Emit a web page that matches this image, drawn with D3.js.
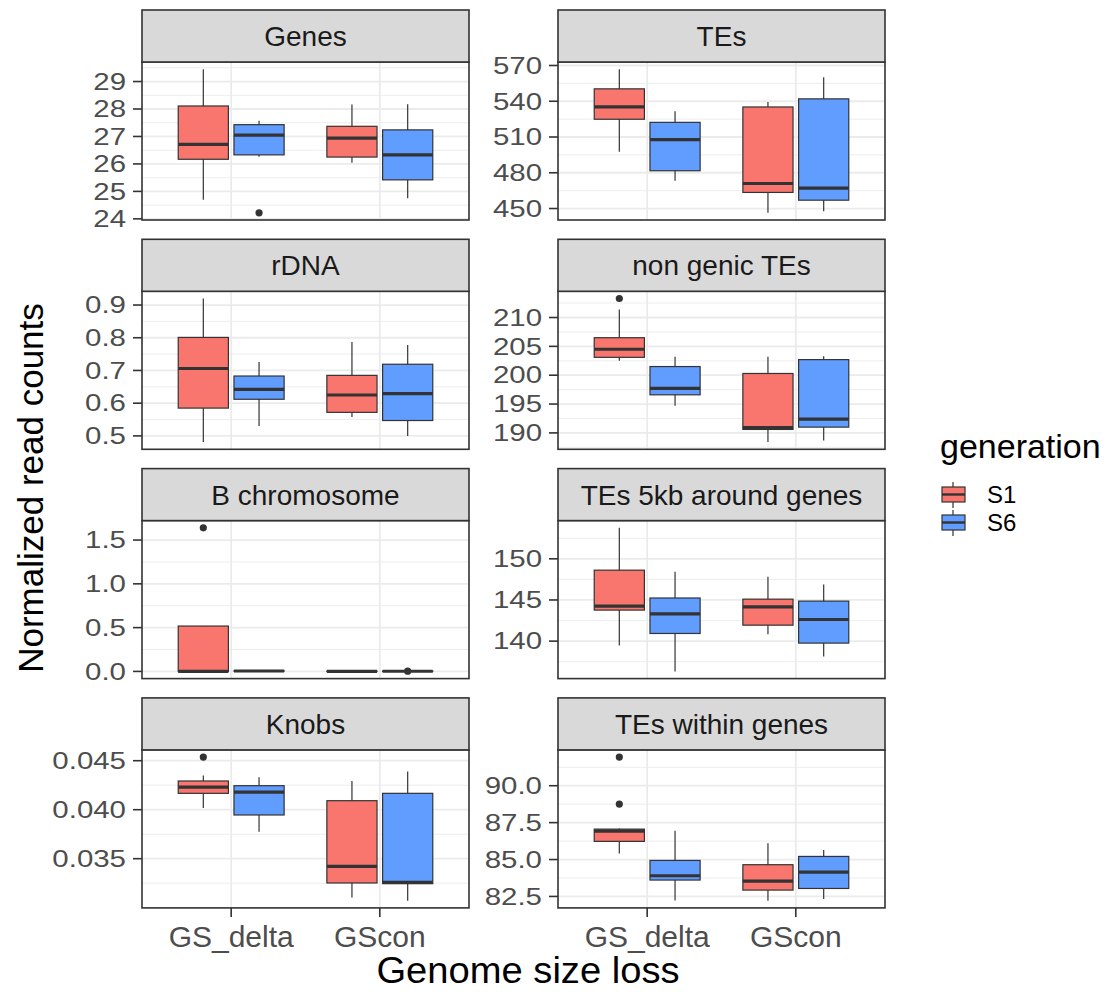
<!DOCTYPE html>
<html>
<head>
<meta charset="utf-8"/>
<script src="https://d3js.org/d3.v7.min.js"></script>
<style>
  body { margin: 0; background: #fff; }
  text { font-family: "Liberation Sans", Arial, Helvetica, sans-serif; }
</style>
</head>
<body>
<script>
// facets, left to right then top to bottom
var facets = ["Genes", "TEs", "rDNA", "non genic TEs", "B chromosome",
              "TEs 5kb around genes", "Knobs", "TEs within genes"];
var groups = ["GS_delta", "GScon"];
var generations = ["S1", "S6"];
var genColors = ["#F8766D", "#619CFF"];

// boxes: [low whisker, q1, median, q3, high whisker]
// order: GS_delta S1, GS_delta S6, GScon S1, GScon S6
var genesBox = [[24.70, 26.17, 26.71, 28.11, 29.45], [26.26, 26.33, 27.05, 27.43, 27.57],
                [26.04, 26.25, 26.94, 27.37, 28.16], [24.75, 25.42, 26.33, 27.24, 28.17]];
var tesBox = [[497.7, 524.9, 535.2, 550.4, 566.9], [473.3, 481.7, 507.8, 522.3, 531.6],
              [446.4, 463.5, 471.0, 535.2, 539.4], [447.8, 457.0, 467.1, 542.0, 560.2]];
var rdnaBox = [[0.481, 0.585, 0.706, 0.801, 0.920], [0.530, 0.612, 0.642, 0.683, 0.726],
               [0.558, 0.572, 0.625, 0.685, 0.787], [0.500, 0.547, 0.629, 0.719, 0.778]];
var nonGenicBox = [[202.5, 203.1, 204.5, 206.5, 211.4], [194.7, 196.6, 197.7, 201.5, 203.2],
                   [188.4, 190.6, 190.9, 200.3, 203.2], [188.7, 191.0, 192.4, 202.7, 203.3]];
var bchromBox = [[0, 0, 0, 0.518, 0.518], [0.003, 0.004, 0.005, 0.006, 0.007],
                 [0, 0, 0.001, 0.002, 0.003], [0, 0.001, 0.002, 0.003, 0.004]];
var te5kbBox = [[139.47, 143.77, 144.25, 148.62, 153.77], [136.32, 140.93, 143.32, 145.24, 148.42],
                [140.85, 141.94, 144.17, 145.10, 147.81], [138.14, 139.76, 142.63, 144.86, 146.88]];
var knobsBox = [[0.04017, 0.04167, 0.04231, 0.04293, 0.04350], [0.03776, 0.03946, 0.04180, 0.04245, 0.04330],
                [0.03105, 0.03252, 0.03422, 0.04092, 0.04293], [0.03071, 0.03245, 0.03259, 0.04167, 0.04391]];
var teWithinBox = [[85.41, 86.23, 86.93, 87.06, 87.10], [82.23, 83.61, 83.90, 84.94, 86.95],
                   [82.21, 82.93, 83.54, 84.65, 86.11], [82.32, 83.04, 84.15, 85.21, 85.64]];

// outliers: [box index, value]
var genesOut = [[1, 24.22]];
var tesOut = [];
var rdnaOut = [];
var nonGenicOut = [[0, 213.3]];
var bchromOut = [[0, 1.64], [3, 0.003]];
var te5kbOut = [];
var knobsOut = [[0, 0.04537]];
var teWithinOut = [[0, 91.94], [0, 88.76]];

// y ticks and their labels
var genesTicks = [24, 25, 26, 27, 28, 29];
var genesLabels = ["24", "25", "26", "27", "28", "29"];
var tesTicks = [450, 480, 510, 540, 570];
var tesLabels = ["450", "480", "510", "540", "570"];
var rdnaTicks = [0.5, 0.6, 0.7, 0.8, 0.9];
var rdnaLabels = ["0.5", "0.6", "0.7", "0.8", "0.9"];
var nonGenicTicks = [190, 195, 200, 205, 210];
var nonGenicLabels = ["190", "195", "200", "205", "210"];
var bchromTicks = [0, 0.5, 1, 1.5];
var bchromLabels = ["0.0", "0.5", "1.0", "1.5"];
var te5kbTicks = [140, 145, 150];
var te5kbLabels = ["140", "145", "150"];
var knobsTicks = [0.035, 0.040, 0.045];
var knobsLabels = ["0.035", "0.040", "0.045"];
var teWithinTicks = [82.5, 85, 87.5, 90];
var teWithinLabels = ["82.5", "85.0", "87.5", "90.0"];

var allBoxes = [genesBox, tesBox, rdnaBox, nonGenicBox, bchromBox, te5kbBox, knobsBox, teWithinBox];
var allOut = [genesOut, tesOut, rdnaOut, nonGenicOut, bchromOut, te5kbOut, knobsOut, teWithinOut];
var allTicks = [genesTicks, tesTicks, rdnaTicks, nonGenicTicks, bchromTicks, te5kbTicks, knobsTicks, teWithinTicks];
var allLabels = [genesLabels, tesLabels, rdnaLabels, nonGenicLabels, bchromLabels, te5kbLabels, knobsLabels, teWithinLabels];

// layout
var colLeft = [142, 558];
var panelW = 327;
var rowTop0 = 10, rowStep = 229.3;
var stripH = 52, plotH = 158;
var dark = "#333333";

var svg = d3.select("body").append("svg")
  .attr("width", 1109).attr("height", 992);

facets.forEach(function (name, i) {
  var col = i % 2, row = Math.floor(i / 2);
  var left = colLeft[col];
  var top = rowTop0 + row * rowStep;
  var pTop = top + stripH, pBot = pTop + plotH;
  var boxes = allBoxes[i], outs = allOut[i], ticks = allTicks[i], labels = allLabels[i];

  // y domain from data, with ggplot 5% expansion
  var vals = [];
  boxes.forEach(function (b) { vals.push(b[0], b[4]); });
  outs.forEach(function (o) { vals.push(o[1]); });
  var lo = d3.min(vals), hi = d3.max(vals), pad = (hi - lo) * 0.05;
  var y = d3.scaleLinear().domain([lo - pad, hi + pad]).range([pBot, pTop]);
  var x = d3.scaleLinear().domain([0.4, 2.6]).range([left, left + panelW]);

  var g = svg.append("g");
  g.append("rect").attr("x", left).attr("y", pTop).attr("width", panelW).attr("height", plotH)
    .attr("fill", "#fff");

  // minor grid
  var step = ticks[1] - ticks[0];
  var minors = [];
  for (var k = -1; k <= ticks.length; k++) {
    var m = ticks[0] + step / 2 + k * step;
    if (m > y.domain()[0] && m < y.domain()[1]) minors.push(m);
  }
  g.selectAll(".minor").data(minors).enter().append("line")
    .attr("x1", left).attr("x2", left + panelW)
    .attr("y1", function (d) { return y(d); }).attr("y2", function (d) { return y(d); })
    .attr("stroke", "#ebebeb").attr("stroke-width", 0.9);
  // major grid
  g.selectAll(".major").data(ticks).enter().append("line")
    .attr("x1", left).attr("x2", left + panelW)
    .attr("y1", function (d) { return y(d); }).attr("y2", function (d) { return y(d); })
    .attr("stroke", "#ebebeb").attr("stroke-width", 1.8);
  g.selectAll(".vmajor").data(groups).enter().append("line")
    .attr("x1", function (d, j) { return x(j + 1); }).attr("x2", function (d, j) { return x(j + 1); })
    .attr("y1", pTop).attr("y2", pBot)
    .attr("stroke", "#ebebeb").attr("stroke-width", 1.8);

  // boxes
  var boxData = boxes.map(function (b, j) {
    return { b: b, grp: Math.floor(j / 2), gen: j % 2 };
  });
  var bg = g.selectAll(".box").data(boxData).enter().append("g");
  function cx(d) { return x(d.grp + 1 + (d.gen === 0 ? -0.1875 : 0.1875)); }
  var halfW = x(0.16875) - x(0);
  bg.append("line")
    .attr("x1", cx).attr("x2", cx)
    .attr("y1", function (d) { return y(d.b[0]); }).attr("y2", function (d) { return y(d.b[4]); })
    .attr("stroke", dark).attr("stroke-width", 1.2);
  bg.append("rect")
    .attr("x", function (d) { return cx(d) - halfW; })
    .attr("width", 2 * halfW)
    .attr("y", function (d) { return y(d.b[3]); })
    .attr("height", function (d) { return Math.max(0, y(d.b[1]) - y(d.b[3])); })
    .attr("fill", function (d) { return genColors[d.gen]; })
    .attr("stroke", dark).attr("stroke-width", 1.2);
  bg.append("line")
    .attr("x1", function (d) { return cx(d) - halfW; })
    .attr("x2", function (d) { return cx(d) + halfW; })
    .attr("y1", function (d) { return y(d.b[2]); }).attr("y2", function (d) { return y(d.b[2]); })
    .attr("stroke", dark).attr("stroke-width", 3.2);

  g.selectAll(".out").data(outs).enter().append("circle")
    .attr("cx", function (d) { return cx(boxData[d[0]]); })
    .attr("cy", function (d) { return y(d[1]); })
    .attr("r", 3.6).attr("fill", dark);

  // panel border
  g.append("rect").attr("x", left).attr("y", pTop).attr("width", panelW).attr("height", plotH)
    .attr("fill", "none").attr("stroke", dark).attr("stroke-width", 1.6);
  // strip
  g.append("rect").attr("x", left).attr("y", top).attr("width", panelW).attr("height", stripH)
    .attr("fill", "#d9d9d9").attr("stroke", dark).attr("stroke-width", 1.6);
  g.append("text").attr("x", left + panelW / 2).attr("y", top + 36)
    .attr("text-anchor", "middle").attr("font-size", 28).attr("fill", "#1a1a1a")
    .text(name);

  // y axis ticks
  var ta = g.selectAll(".ytick").data(ticks).enter().append("g")
    .attr("transform", function (d) { return "translate(" + left + "," + y(d) + ")"; });
  ta.append("line").attr("x1", -9).attr("x2", 0).attr("stroke", dark).attr("stroke-width", 1.6);
  ta.append("text")
    .attr("transform", "translate(-16,0) scale(1.28,1)")
    .attr("dy", "0.36em").attr("text-anchor", "end")
    .attr("font-size", 23).attr("fill", "#4d4d4d")
    .text(function (d, j) { return labels[j]; });

  // x axis on bottom row
  if (row === 3) {
    var xa = g.selectAll(".xtick").data(groups).enter().append("g")
      .attr("transform", function (d, j) { return "translate(" + x(j + 1) + "," + pBot + ")"; });
    xa.append("line").attr("y1", 0).attr("y2", 9).attr("stroke", dark).attr("stroke-width", 1.6);
    xa.append("text").attr("y", 39).attr("text-anchor", "middle")
      .attr("font-size", 30).attr("fill", "#4d4d4d")
      .text(function (d) { return d; });
  }
});

// axis titles
svg.append("text")
  .attr("transform", "translate(528,983) scale(1.06,1)")
  .attr("text-anchor", "middle").attr("font-size", 36).attr("fill", "#000")
  .text("Genome size loss");
svg.append("text")
  .attr("transform", "translate(43,488) rotate(-90)")
  .attr("text-anchor", "middle").attr("font-size", 35).attr("fill", "#000")
  .text("Normalized read counts");

// legend
var leg = svg.append("g").attr("transform", "translate(940,0)");
leg.append("text").attr("x", 0).attr("y", 458).attr("font-size", 34).attr("fill", "#000")
  .text("generation");
var keys = leg.selectAll(".key").data(generations).enter().append("g")
  .attr("transform", function (d, j) { return "translate(0," + (481 + j * 28) + ")"; });
keys.append("line").attr("x1", 13).attr("x2", 13).attr("y1", 1).attr("y2", 27)
  .attr("stroke", dark).attr("stroke-width", 1.2);
keys.append("rect").attr("x", 2).attr("y", 6).attr("width", 23).attr("height", 15)
  .attr("fill", function (d, j) { return genColors[j]; })
  .attr("stroke", dark).attr("stroke-width", 1.2);
keys.append("line").attr("x1", 2).attr("x2", 25).attr("y1", 13.5).attr("y2", 13.5)
  .attr("stroke", dark).attr("stroke-width", 2.4);
keys.append("text").attr("x", 47).attr("y", 22).attr("font-size", 24).attr("fill", "#000")
  .text(function (d) { return d; });
</script>
</body>
</html>
